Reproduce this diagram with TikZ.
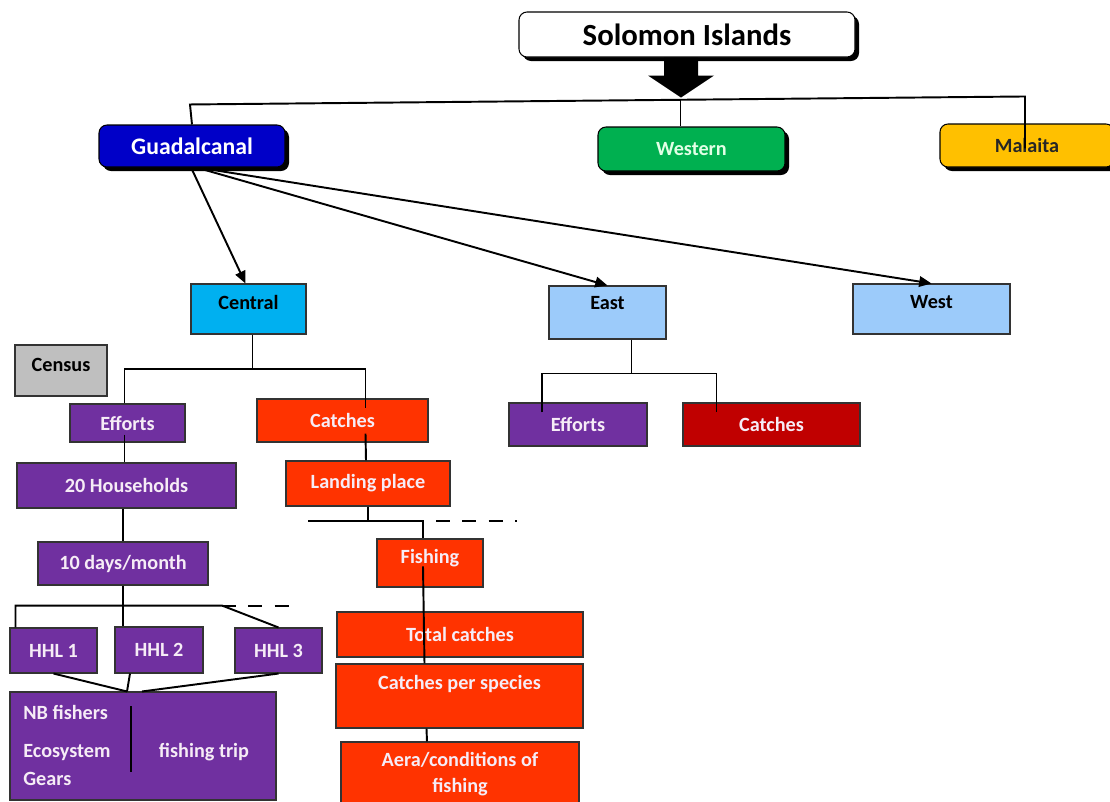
\documentclass[tikz,border=0pt]{standalone}
\usepackage{fontspec}
\setmainfont{Carlito}
\usetikzlibrary{calc,shadows,arrows.meta}
\definecolor{blue1}{HTML}{0000C8}
\definecolor{green1}{HTML}{00B050}
\definecolor{green2}{HTML}{E2FFE6}
\definecolor{yellow1}{HTML}{FFC000}
\definecolor{cyan1}{HTML}{00B0F0}
\definecolor{blue2}{HTML}{9CCBFA}
\definecolor{gray1}{HTML}{BFBFBF}
\definecolor{purple1}{HTML}{7030A0}
\definecolor{red1}{HTML}{FF3300}
\definecolor{red2}{HTML}{C00000}
\definecolor{white1}{HTML}{F6ECF6}

\begin{document}
\begin{tikzpicture}[x=0.02cm,y=-0.02cm,
  sz/.style 2 args={minimum width=#1*0.02cm,minimum height=#2*0.02cm},
  box/.style={draw=black!80,line width=0.6pt,inner sep=0pt,align=center,font=\fontsize{11.5}{15}\selectfont\bfseries},
  top/.style={box,rounded corners=0.16cm,draw=black,drop shadow={shadow xshift=0.08cm,shadow yshift=-0.08cm,fill=black,opacity=1}},
  purp/.style={box,fill=purple1,text=white1},
  orng/.style={box,fill=red1,text=white1},
  txt/.style={inner sep=0pt,text=white1,font=\fontsize{11.5}{15}\selectfont\bfseries},
  lift/.style={text depth=#1},
  link/.style={line width=1.1pt},
  thinlink/.style={line width=0.7pt},
  tolink/.style={line width=1.1pt,-{Triangle[length=7pt,width=6pt]}},
  brokenline/.style={line width=1.1pt,dash pattern=on 8pt off 7pt}]
\useasboundingbox (0,0) rectangle (1110,802);

\node[top,sz={336}{45},fill=white,font=\fontsize{17.5}{20}\selectfont\bfseries] (title) at (687,34.5) {Solomon Islands};
\node[top,sz={186}{42},fill=blue1,text=white,font=\fontsize{13.5}{16}\selectfont\bfseries] (guad) at (192,146) {Guadalcanal};
\node[top,sz={187}{44},fill=green1,text=green2] (western) at (691.5,149) {Western};
\node[top,sz={174}{43},fill=yellow1,text=black!85] (malaita) at (1027,145.5) {Malaita};

\node[box,sz={115}{50},fill=cyan1,lift=8pt] (central) at (248.5,309) {Central};
\node[box,sz={117}{53},fill=blue2,lift=11pt] (east) at (607.5,312.5) {East};
\node[box,sz={157}{50},fill=blue2,lift=8pt] (west) at (931.5,309) {West};
\node[box,sz={92}{51},fill=gray1,lift=6pt] (census) at (61,370.5) {Census};

\node[purp,sz={115}{38}] (ceffort) at (127.5,423) {Efforts};
\node[orng,sz={171}{43}] (ccatch) at (342.5,420.5) {Catches};
\node[purp,sz={219}{45}] (house) at (126.5,485.5) {20 Households};
\node[orng,sz={164}{45}] (landing) at (368,483.5) {Landing place};
\node[purp,sz={170}{43}] (days) at (123,563.5) {10 days/month};
\node[orng,sz={106}{48},lift=8pt] (fishing) at (430,563) {Fishing};
\node[orng,sz={246}{45}] (total) at (460,634.5) {Total catches};
\node[orng,sz={247}{64},lift=16pt] (species) at (459.5,696) {Catches per species};
\node[orng,sz={238}{64}] (area) at (460,774) {Aera/conditions of\\fishing};

\node[purp,sz={87}{45}] (hhl1) at (53.5,650.5) {HHL 1};
\node[purp,sz={88}{46}] (hhl2) at (159,650) {HHL 2};
\node[purp,sz={87}{45}] (hhl3) at (278.5,650.5) {HHL 3};
\node[purp,sz={266}{108}] (trip) at (143,746) {};
\node[txt,anchor=west] (nb) at (23,712) {NB fishers};
\node[txt,anchor=west] (eco) at (23,753) {Ecosystem};
\node[txt,anchor=west] (gears) at (23,779) {Gears};
\node[txt] (ftrip) at (204,752) {fishing trip};

\node[purp,sz={138}{43}] (eeffort) at (578,424.5) {Efforts};
\node[box,fill=red2,text=white1,sz={177}{43}] (ecatch) at (771.5,424.5) {Catches};

\fill ($(title.south)+(-23,0)$) -- ++(34,0) -- ++(0,18) -- ++(16,0) -- ++(-33,22) -- ++(-33,-22) -- ++(16,0) -- cycle;
\draw[link] (guad.north) -- ++(-2,-20) -- ($(malaita.north)+(-2,-27)$) -- ++(0,52);
\draw[link] ($(western.north)+(-11,0)$) -- ++(0,-27);

\draw[tolink] ($(guad.south)+(0,2)$) -- ($(central.north)+(-3,0)$);
\draw[tolink] ($(guad.south)+(8,1)$) -- (east.north);
\draw[tolink] ($(guad.south)+(12,1)$) -- (west.north);

\draw[link] ($(central.south)+(4,0)$) -- ++(0,34) coordinate (cb);
\draw[link] ($(ceffort.north)+(-3,0)$) |- (cb) -| ($(ccatch.north)+(23,10)$);
\draw[link] ($(ceffort.south)+(-3,-8)$) -- ($(house.north)+(-2,0)$);
\draw[link] (days.north |- house.south) -- (days.north);
\draw[link] (days.south) -- ++(0,20) coordinate (db);
\draw[link] ($(hhl1.north west)+(6,0)$) |- (db) -- ++(99,0) coordinate (dd) -- (hhl3.north);
\draw[link] (db) -- (db |- hhl2.north);
\draw[brokenline] (dd) -- ++(78,0);

\coordinate (tt) at ($(trip.north)+(-16,0)$);
\draw[link] (hhl1.south) -- (tt);
\draw[link] ($(hhl2.south)+(-29,0)$) -- (tt);
\draw[link] (hhl3.south) -- ($(trip.north)+(-1,0)$);
\draw[link] ($(trip.center)+(-12,-40)$) -- ($(trip.center)+(-12,26)$);

\draw[link] ($(ccatch.south)+(23,-9)$) -- ($(landing.north)+(-2,0)$);
\draw[link] (landing.south) -- ++(0,14) coordinate (lb);
\draw[link] ($(lb)+(-60,0)$) -- ($(lb)+(55,0)$) -- ($(fishing.north)+(-7,0)$);
\draw[brokenline] ($(lb)+(68,0)$) -- ($(lb)+(149,0)$);
\draw[link] ($(fishing.north)+(-7,28)$) -- ($(species.north)+(-35,0)$);
\draw[link] ($(species.south)+(-33,0)$) -- ($(area.north)+(-33,0)$);

\draw[thinlink] ($(east.south)+(24,0)$) -- ++(0,34) coordinate (eb);
\draw[thinlink] ($(eeffort.north)+(-36,10)$) |- (eb) -| ($(ecatch.north)+(-55,10)$);
\end{tikzpicture}
\end{document}
